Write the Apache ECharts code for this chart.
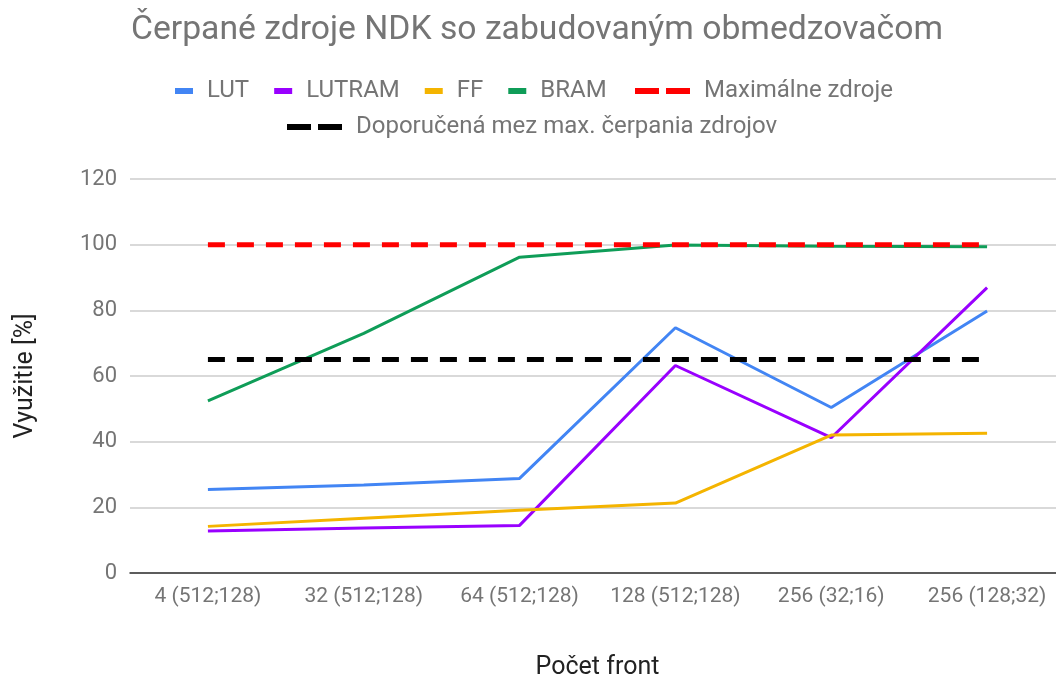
<!DOCTYPE html>
<html>
<head>
<meta charset="utf-8">
<script src="https://cdn.jsdelivr.net/npm/echarts@6/dist/echarts.min.js"></script>
<style>
  html, body { margin: 0; padding: 0; background: #fff; }
  #chart { width: 1056px; height: 679px; }
</style>
</head>
<body>
<div id="chart"></div>
<script>
// kategórie a hodnoty
const categories = ['4 (512;128)', '32 (512;128)', '64 (512;128)', '128 (512;128)', '256 (32;16)', '256 (128;32)'];
const lut = [25.4, 26.8, 28.8, 74.7, 50.4, 79.8];
const lutram = [12.8, 13.7, 14.5, 63.2, 41.2, 86.9];
const ff = [14.2, 16.7, 19.1, 21.3, 42.0, 42.6];
const bram = [52.4, 73.0, 96.2, 99.9, 99.5, 99.4];
const maxZdroje = [100, 100, 100, 100, 100, 100];
const doporucena = [65, 65, 65, 65, 65, 65];
const yTicks = [0, 20, 40, 60, 80, 100, 120];

const gray = '#757575';
const font = 'Roboto, "Noto Sans", sans-serif';

const chart = echarts.init(document.getElementById('chart'));

function solid(name, data, color) {
  return {
    name, type: 'line', data, showSymbol: false, symbol: 'none',
    lineStyle: { color, width: 3 }, itemStyle: { color },
    animation: false
  };
}
function dashed(name, data, color) {
  return {
    name, type: 'line', data, showSymbol: false, symbol: 'none',
    lineStyle: { color, width: 5, type: [17, 12] }, itemStyle: { color },
    animation: false
  };
}

const dashIcon = 'path://M0,0H24V6H0Z M31,0H55V6H31Z';
const legendText = { color: gray, fontSize: 24, fontFamily: font, padding: [0, 0, 0, 9] };

chart.setOption({
  backgroundColor: '#fff',
  title: {
    text: 'Čerpané zdroje NDK so zabudovaným obmedzovačom',
    left: 126, top: 9,
    textStyle: { color: gray, fontSize: 33.7, fontWeight: 'normal', fontFamily: font }
  },
  legend: [
    {
      data: ['LUT', 'LUTRAM', 'FF', 'BRAM'],
      left: 175, top: 79, padding: 0,
      icon: 'rect', itemWidth: 18, itemHeight: 6, itemGap: 25,
      textStyle: legendText
    },
    {
      data: ['Maximálne zdroje'],
      left: 635, top: 79, padding: 0,
      icon: dashIcon, itemWidth: 55, itemHeight: 6,
      textStyle: legendText
    },
    {
      data: ['Doporučená mez max. čerpania zdrojov'],
      left: 287, top: 115, padding: 0,
      icon: dashIcon, itemWidth: 55, itemHeight: 6,
      textStyle: legendText
    }
  ],
  grid: { left: 130, top: 179, width: 935, bottom: 106, containLabel: false, outerBoundsMode: 'none' },
  xAxis: {
    type: 'category',
    data: categories,
    boundaryGap: true,
    name: 'Počet front',
    nameLocation: 'middle',
    nameGap: 82,
    nameTextStyle: { color: '#222', fontSize: 25, fontFamily: font },
    axisLine: { lineStyle: { color: '#333', width: 1.5 } },
    axisTick: { show: false },
    axisLabel: { color: gray, fontSize: 21, fontFamily: font, margin: 13, interval: 0 }
  },
  yAxis: {
    type: 'value',
    min: yTicks[0], max: yTicks[yTicks.length - 1], interval: 20,
    name: 'Využitie [%]',
    nameLocation: 'middle',
    nameGap: 92,
    nameRotate: 90,
    nameTextStyle: { color: '#222', fontSize: 25, fontFamily: font },
    axisLine: { show: false },
    axisTick: { show: false },
    axisLabel: { color: gray, fontSize: 22, fontFamily: font, margin: 13 },
    splitLine: { lineStyle: { color: '#cccccc', width: 1.5 } }
  },
  series: [
    solid('LUT', lut, '#4285F4'),
    solid('LUTRAM', lutram, '#9900FF'),
    solid('FF', ff, '#F4B400'),
    solid('BRAM', bram, '#0F9D58'),
    dashed('Maximálne zdroje', maxZdroje, '#FF0000'),
    dashed('Doporučená mez max. čerpania zdrojov', doporucena, '#000000')
  ]
});
</script>
</body>
</html>
